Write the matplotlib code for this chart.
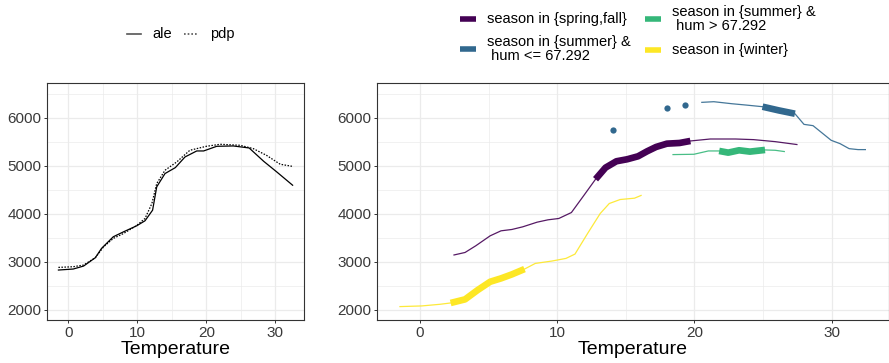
import matplotlib
matplotlib.use("Agg")
import matplotlib.pyplot as plt
from matplotlib.lines import Line2D
from matplotlib.ticker import MultipleLocator
import numpy as np

plt.rcParams['font.family'] = ['Liberation Sans', 'DejaVu Sans']

# --- left panel: global effect of temperature ---
ale_x = [-1.45, 0.7, 2.2, 3.9, 4.8, 6.5, 8.0, 9.9, 11.1, 12.2, 12.8, 14.0, 15.5,
         16.9, 18.6, 19.6, 21.5, 23.9, 26.2, 28.3, 30.2, 32.5]
ale_y = [2826, 2847, 2909, 3083, 3277, 3519, 3623, 3748, 3852, 4073, 4559, 4836, 4960,
         5182, 5307, 5307, 5404, 5411, 5369, 5092, 4870, 4593]
pdp_x = [-1.45, 0.7, 2.2, 3.9, 5.1, 6.5, 8.0, 9.9, 11.1, 12.1, 12.8, 14.0, 15.7,
         17.6, 20.0, 22.0, 24.9, 26.8, 28.7, 30.7, 32.4]
pdp_y = [2881, 2895, 2930, 3083, 3311, 3484, 3588, 3755, 3900, 4212, 4628, 4905, 5078,
         5321, 5404, 5446, 5425, 5355, 5217, 5030, 4988]

# --- right panel: effect per season region ---
region_labels = ["season in {spring,fall}", "season in {summer} &\n hum <= 67.292",
                 "season in {summer} &\n hum > 67.292", "season in {winter}"]
region_colors = ["#440154", "#31688E", "#35B779", "#FDE725"]

springfall_x = [2.44, 3.29, 4.07, 5.12, 5.91, 6.70, 7.49, 8.54, 9.33, 10.12, 11.04, 11.96,
                12.80, 13.53, 14.32, 15.11, 15.90, 16.56, 17.21, 18.00, 18.92, 19.71,
                21.16, 23.0, 24.31, 25.89, 27.52]
springfall_y = [3137, 3192, 3331, 3539, 3643, 3671, 3726, 3823, 3872, 3900, 4024, 4385,
                4718, 4960, 5092, 5134, 5196, 5300, 5390, 5459, 5473, 5515,
                5556, 5556, 5543, 5501, 5439]
summer_dry_x = [20.5, 21.42, 22.73, 23.78, 24.97, 26.15, 27.33, 27.99, 28.65, 29.97,
                30.62, 31.28, 31.93, 32.51]
summer_dry_y = [6319, 6333, 6291, 6263, 6229, 6152, 6083, 5861, 5834, 5529,
                5459, 5355, 5335, 5335]
summer_dry_pts_x = [14.09, 18.0, 19.32]
summer_dry_pts_y = [5737, 6208, 6270]
summer_wet_x = [18.40, 19.97, 21.02, 21.81, 22.47, 23.26, 24.05, 25.15, 25.89, 26.60]
summer_wet_y = [5231, 5238, 5307, 5307, 5272, 5321, 5293, 5328, 5321, 5293]
winter_x = [-1.50, 0.13, 1.45, 2.24, 3.29, 4.21, 5.12, 5.91, 6.70, 7.62, 8.41, 9.59,
            10.64, 11.30, 12.22, 13.14, 13.80, 14.59, 15.64, 16.16]
winter_y = [2064, 2078, 2112, 2140, 2215, 2409, 2582, 2652, 2735, 2846, 2964, 3012,
            3068, 3158, 3588, 4004, 4212, 4295, 4323, 4385]

# temperature range where each region holds most of its observations (thick part)
dense_range = [(12.8, 19.71), (24.97, 27.33), (21.81, 25.15), (2.24, 7.62)]

W, H = 889, 363
fig = plt.figure(figsize=(W / 100, H / 100), dpi=100)
ax1 = fig.add_axes([46.7 / W, 43 / H, 257.3 / W, 237.3 / H])
ax2 = fig.add_axes([376.7 / W, 43 / H, 511.8 / W, 237.3 / H])


def style_axes(ax):
    ax.set_xlim(-3.15, 34.15)
    ax.set_ylim(1785, 6729)
    ax.xaxis.set_major_locator(MultipleLocator(10))
    ax.xaxis.set_minor_locator(MultipleLocator(5))
    ax.yaxis.set_major_locator(MultipleLocator(1000))
    ax.yaxis.set_minor_locator(MultipleLocator(500))
    ax.grid(which='major', color='#EBEBEB', lw=0.9)
    ax.grid(which='minor', color='#EBEBEB', lw=0.5)
    ax.set_axisbelow(True)
    for s in ax.spines.values():
        s.set_color('#333333')
        s.set_linewidth(0.8)
    ax.tick_params(which='major', length=2.5, width=0.7, color='#333333',
                   labelsize=11, labelcolor='#3A3A3A', pad=1.5)
    ax.tick_params(which='minor', length=0)
    ax.set_xlabel("Temperature", fontsize=14, labelpad=1)


style_axes(ax1)
style_axes(ax2)

ax1.plot(ale_x, ale_y, color='black', lw=0.9)
ax1.plot(pdp_x, pdp_y, color='black', lw=0.9, linestyle=(0, (1.2, 1.2)))

series = [(springfall_x, springfall_y), (summer_dry_x, summer_dry_y),
          (summer_wet_x, summer_wet_y), (winter_x, winter_y)]
for (xs, ys), col, (lo, hi) in zip(series, region_colors, dense_range):
    xs = np.array(xs)
    ys = np.array(ys)
    ax2.plot(xs, ys, color=col, lw=0.9, alpha=0.9, solid_capstyle='butt')
    m = (xs >= lo) & (xs <= hi)
    ax2.plot(xs[m], ys[m], color=col, lw=4.8, solid_capstyle='butt',
             solid_joinstyle='round')
ax2.plot(summer_dry_pts_x, summer_dry_pts_y, 'o', color=region_colors[1], ms=4.5, mec='none')


# --- legends, drawn in pixel positions ---
def fy(py):
    return 1 - py / H


def key(x0, x1, py, **kw):
    fig.add_artist(Line2D([x0 / W, x1 / W], [fy(py), fy(py)], transform=fig.transFigure, **kw))


key(127, 141, 34, color='#555555', lw=1.2)
fig.text(152 / W, fy(34), "ale", fontsize=10.5, va='center')
key(184, 198, 34, color='#555555', lw=1.2, linestyle=(0, (1, 1.2)))
fig.text(210 / W, fy(34), "pdp", fontsize=10.5, va='center')

key_pos = [(460, 487, 19), (460, 487, 49), (645, 672, 19), (645, 672, 50)]
for (kx, tx, py), lab, col in zip(key_pos, region_labels, region_colors):
    key(kx, kx + 16, py, color=col, lw=4, solid_capstyle='butt')
    fig.text(tx / W, fy(py), lab, fontsize=10.5, va='center', linespacing=0.95)

fig.savefig("out.png", dpi=100)
